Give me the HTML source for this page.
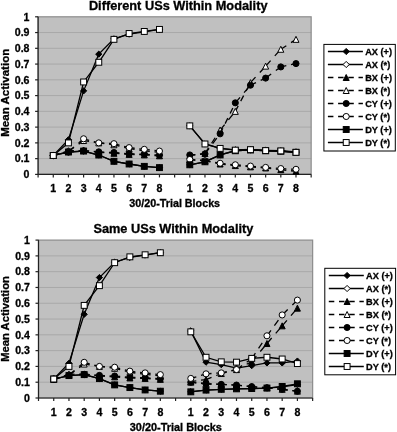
<!DOCTYPE html>
<html><head><meta charset="utf-8"><title>Mean Activation Charts</title>
<style>
html,body{margin:0;padding:0;background:#fff;}
body{width:397px;height:432px;overflow:hidden;}
svg{display:block;}
text{font-family:"Liberation Sans",sans-serif;font-weight:bold;fill:#000;stroke:#000;stroke-width:0.3px;}
.tk{font-size:10.6px;}
.ax{font-size:10.65px;}
.tt{font-size:12.7px;}
.lg{font-size:9.2px;}
.ay{font-size:10.4px;}
</style></head><body>
<svg width="397" height="432" viewBox="0 0 397 432">
<rect width="397" height="432" fill="#fff"/>
<rect x="38.10" y="16.80" width="273.06" height="157.60" fill="#c0c0c0"/>
<line x1="38.10" x2="311.16" y1="158.64" y2="158.64" stroke="#a8a8a8" stroke-width="1"/>
<line x1="38.10" x2="311.16" y1="142.88" y2="142.88" stroke="#a8a8a8" stroke-width="1"/>
<line x1="38.10" x2="311.16" y1="127.12" y2="127.12" stroke="#a8a8a8" stroke-width="1"/>
<line x1="38.10" x2="311.16" y1="111.36" y2="111.36" stroke="#a8a8a8" stroke-width="1"/>
<line x1="38.10" x2="311.16" y1="95.60" y2="95.60" stroke="#a8a8a8" stroke-width="1"/>
<line x1="38.10" x2="311.16" y1="79.84" y2="79.84" stroke="#a8a8a8" stroke-width="1"/>
<line x1="38.10" x2="311.16" y1="64.08" y2="64.08" stroke="#a8a8a8" stroke-width="1"/>
<line x1="38.10" x2="311.16" y1="48.32" y2="48.32" stroke="#a8a8a8" stroke-width="1"/>
<line x1="38.10" x2="311.16" y1="32.56" y2="32.56" stroke="#a8a8a8" stroke-width="1"/>
<rect x="38.10" y="16.80" width="273.06" height="157.60" fill="none" stroke="#8c8c8c" stroke-width="1.2"/>
<line x1="38.10" x2="38.10" y1="16.80" y2="174.40" stroke="#222" stroke-width="1.2"/>
<line x1="38.10" x2="311.16" y1="174.40" y2="174.40" stroke="#222" stroke-width="1.2"/>
<line x1="35.10" x2="38.10" y1="174.40" y2="174.40" stroke="#222" stroke-width="1.2"/>
<text x="29.50" y="178.20" text-anchor="end" class="tk">0</text>
<line x1="35.10" x2="38.10" y1="158.64" y2="158.64" stroke="#222" stroke-width="1.2"/>
<text x="29.50" y="162.44" text-anchor="end" class="tk">0.1</text>
<line x1="35.10" x2="38.10" y1="142.88" y2="142.88" stroke="#222" stroke-width="1.2"/>
<text x="29.50" y="146.68" text-anchor="end" class="tk">0.2</text>
<line x1="35.10" x2="38.10" y1="127.12" y2="127.12" stroke="#222" stroke-width="1.2"/>
<text x="29.50" y="130.92" text-anchor="end" class="tk">0.3</text>
<line x1="35.10" x2="38.10" y1="111.36" y2="111.36" stroke="#222" stroke-width="1.2"/>
<text x="29.50" y="115.16" text-anchor="end" class="tk">0.4</text>
<line x1="35.10" x2="38.10" y1="95.60" y2="95.60" stroke="#222" stroke-width="1.2"/>
<text x="29.50" y="99.40" text-anchor="end" class="tk">0.5</text>
<line x1="35.10" x2="38.10" y1="79.84" y2="79.84" stroke="#222" stroke-width="1.2"/>
<text x="29.50" y="83.64" text-anchor="end" class="tk">0.6</text>
<line x1="35.10" x2="38.10" y1="64.08" y2="64.08" stroke="#222" stroke-width="1.2"/>
<text x="29.50" y="67.88" text-anchor="end" class="tk">0.7</text>
<line x1="35.10" x2="38.10" y1="48.32" y2="48.32" stroke="#222" stroke-width="1.2"/>
<text x="29.50" y="52.12" text-anchor="end" class="tk">0.8</text>
<line x1="35.10" x2="38.10" y1="32.56" y2="32.56" stroke="#222" stroke-width="1.2"/>
<text x="29.50" y="36.36" text-anchor="end" class="tk">0.9</text>
<line x1="35.10" x2="38.10" y1="16.80" y2="16.80" stroke="#222" stroke-width="1.2"/>
<text x="29.50" y="20.60" text-anchor="end" class="tk">1</text>
<line x1="38.10" x2="38.10" y1="174.40" y2="177.40" stroke="#222" stroke-width="1.2"/>
<line x1="53.27" x2="53.27" y1="174.40" y2="177.40" stroke="#222" stroke-width="1.2"/>
<line x1="68.44" x2="68.44" y1="174.40" y2="177.40" stroke="#222" stroke-width="1.2"/>
<line x1="83.61" x2="83.61" y1="174.40" y2="177.40" stroke="#222" stroke-width="1.2"/>
<line x1="98.78" x2="98.78" y1="174.40" y2="177.40" stroke="#222" stroke-width="1.2"/>
<line x1="113.95" x2="113.95" y1="174.40" y2="177.40" stroke="#222" stroke-width="1.2"/>
<line x1="129.12" x2="129.12" y1="174.40" y2="177.40" stroke="#222" stroke-width="1.2"/>
<line x1="144.29" x2="144.29" y1="174.40" y2="177.40" stroke="#222" stroke-width="1.2"/>
<line x1="159.46" x2="159.46" y1="174.40" y2="177.40" stroke="#222" stroke-width="1.2"/>
<line x1="174.63" x2="174.63" y1="174.40" y2="177.40" stroke="#222" stroke-width="1.2"/>
<line x1="189.80" x2="189.80" y1="174.40" y2="177.40" stroke="#222" stroke-width="1.2"/>
<line x1="204.97" x2="204.97" y1="174.40" y2="177.40" stroke="#222" stroke-width="1.2"/>
<line x1="220.14" x2="220.14" y1="174.40" y2="177.40" stroke="#222" stroke-width="1.2"/>
<line x1="235.31" x2="235.31" y1="174.40" y2="177.40" stroke="#222" stroke-width="1.2"/>
<line x1="250.48" x2="250.48" y1="174.40" y2="177.40" stroke="#222" stroke-width="1.2"/>
<line x1="265.65" x2="265.65" y1="174.40" y2="177.40" stroke="#222" stroke-width="1.2"/>
<line x1="280.82" x2="280.82" y1="174.40" y2="177.40" stroke="#222" stroke-width="1.2"/>
<line x1="295.99" x2="295.99" y1="174.40" y2="177.40" stroke="#222" stroke-width="1.2"/>
<line x1="311.16" x2="311.16" y1="174.40" y2="177.40" stroke="#222" stroke-width="1.2"/>
<text x="53.27" y="192.30" text-anchor="middle" class="tk">1</text>
<text x="189.80" y="192.30" text-anchor="middle" class="tk">1</text>
<text x="68.44" y="192.30" text-anchor="middle" class="tk">2</text>
<text x="204.97" y="192.30" text-anchor="middle" class="tk">2</text>
<text x="83.61" y="192.30" text-anchor="middle" class="tk">3</text>
<text x="220.14" y="192.30" text-anchor="middle" class="tk">3</text>
<text x="98.78" y="192.30" text-anchor="middle" class="tk">4</text>
<text x="235.31" y="192.30" text-anchor="middle" class="tk">4</text>
<text x="113.95" y="192.30" text-anchor="middle" class="tk">5</text>
<text x="250.48" y="192.30" text-anchor="middle" class="tk">5</text>
<text x="129.12" y="192.30" text-anchor="middle" class="tk">6</text>
<text x="265.65" y="192.30" text-anchor="middle" class="tk">6</text>
<text x="144.29" y="192.30" text-anchor="middle" class="tk">7</text>
<text x="280.82" y="192.30" text-anchor="middle" class="tk">7</text>
<text x="159.46" y="192.30" text-anchor="middle" class="tk">8</text>
<text x="295.99" y="192.30" text-anchor="middle" class="tk">8</text>
<polyline points="53.27,155.49 68.44,139.73 83.61,90.87 98.78,54.15 113.95,38.86 129.12,34.14 144.29,31.77 159.46,29.41" fill="none" stroke="#000" stroke-width="1.3"/>
<polygon points="53.27,152.39 56.37,155.49 53.27,158.59 50.17,155.49" fill="#000" stroke="#000" stroke-width="1"/>
<polygon points="68.44,136.63 71.54,139.73 68.44,142.83 65.34,139.73" fill="#000" stroke="#000" stroke-width="1"/>
<polygon points="83.61,87.77 86.71,90.87 83.61,93.97 80.51,90.87" fill="#000" stroke="#000" stroke-width="1"/>
<polygon points="98.78,51.05 101.88,54.15 98.78,57.25 95.68,54.15" fill="#000" stroke="#000" stroke-width="1"/>
<polygon points="113.95,35.76 117.05,38.86 113.95,41.96 110.85,38.86" fill="#000" stroke="#000" stroke-width="1"/>
<polygon points="129.12,31.04 132.22,34.14 129.12,37.24 126.02,34.14" fill="#000" stroke="#000" stroke-width="1"/>
<polygon points="144.29,28.67 147.39,31.77 144.29,34.87 141.19,31.77" fill="#000" stroke="#000" stroke-width="1"/>
<polygon points="159.46,26.31 162.56,29.41 159.46,32.51 156.36,29.41" fill="#000" stroke="#000" stroke-width="1"/>
<polyline points="189.80,125.86 204.97,143.98 220.14,148.40 235.31,149.81 250.48,149.50 265.65,150.29 280.82,150.76 295.99,151.86" fill="none" stroke="#000" stroke-width="1.3"/>
<polygon points="189.80,122.76 192.90,125.86 189.80,128.96 186.70,125.86" fill="#000" stroke="#000" stroke-width="1"/>
<polygon points="204.97,140.88 208.07,143.98 204.97,147.08 201.87,143.98" fill="#000" stroke="#000" stroke-width="1"/>
<polygon points="220.14,145.30 223.24,148.40 220.14,151.50 217.04,148.40" fill="#000" stroke="#000" stroke-width="1"/>
<polygon points="235.31,146.71 238.41,149.81 235.31,152.91 232.21,149.81" fill="#000" stroke="#000" stroke-width="1"/>
<polygon points="250.48,146.40 253.58,149.50 250.48,152.60 247.38,149.50" fill="#000" stroke="#000" stroke-width="1"/>
<polygon points="265.65,147.19 268.75,150.29 265.65,153.39 262.55,150.29" fill="#000" stroke="#000" stroke-width="1"/>
<polygon points="280.82,147.66 283.92,150.76 280.82,153.86 277.72,150.76" fill="#000" stroke="#000" stroke-width="1"/>
<polygon points="295.99,148.76 299.09,151.86 295.99,154.96 292.89,151.86" fill="#000" stroke="#000" stroke-width="1"/>
<polyline points="53.27,155.49 68.44,152.02 83.61,151.08 98.78,155.02 113.95,161.32 129.12,164.00 144.29,166.36 159.46,167.62" fill="none" stroke="#000" stroke-width="1.3"/>
<polygon points="53.27,152.39 56.37,155.49 53.27,158.59 50.17,155.49" fill="#fff" stroke="#000" stroke-width="1"/>
<polygon points="68.44,148.92 71.54,152.02 68.44,155.12 65.34,152.02" fill="#fff" stroke="#000" stroke-width="1"/>
<polygon points="83.61,147.98 86.71,151.08 83.61,154.18 80.51,151.08" fill="#fff" stroke="#000" stroke-width="1"/>
<polygon points="98.78,151.92 101.88,155.02 98.78,158.12 95.68,155.02" fill="#fff" stroke="#000" stroke-width="1"/>
<polygon points="113.95,158.22 117.05,161.32 113.95,164.42 110.85,161.32" fill="#fff" stroke="#000" stroke-width="1"/>
<polygon points="129.12,160.90 132.22,164.00 129.12,167.10 126.02,164.00" fill="#fff" stroke="#000" stroke-width="1"/>
<polygon points="144.29,163.26 147.39,166.36 144.29,169.46 141.19,166.36" fill="#fff" stroke="#000" stroke-width="1"/>
<polygon points="159.46,164.52 162.56,167.62 159.46,170.72 156.36,167.62" fill="#fff" stroke="#000" stroke-width="1"/>
<polyline points="189.80,164.79 204.97,161.79 220.14,154.94 235.31,150.76 250.48,149.97 265.65,150.76 280.82,151.23 295.99,152.34" fill="none" stroke="#000" stroke-width="1.3"/>
<polygon points="189.80,161.69 192.90,164.79 189.80,167.89 186.70,164.79" fill="#fff" stroke="#000" stroke-width="1"/>
<polygon points="204.97,158.69 208.07,161.79 204.97,164.89 201.87,161.79" fill="#fff" stroke="#000" stroke-width="1"/>
<polygon points="220.14,151.84 223.24,154.94 220.14,158.04 217.04,154.94" fill="#fff" stroke="#000" stroke-width="1"/>
<polygon points="235.31,147.66 238.41,150.76 235.31,153.86 232.21,150.76" fill="#fff" stroke="#000" stroke-width="1"/>
<polygon points="250.48,146.87 253.58,149.97 250.48,153.07 247.38,149.97" fill="#fff" stroke="#000" stroke-width="1"/>
<polygon points="265.65,147.66 268.75,150.76 265.65,153.86 262.55,150.76" fill="#fff" stroke="#000" stroke-width="1"/>
<polygon points="280.82,148.13 283.92,151.23 280.82,154.33 277.72,151.23" fill="#fff" stroke="#000" stroke-width="1"/>
<polygon points="295.99,149.24 299.09,152.34 295.99,155.44 292.89,152.34" fill="#fff" stroke="#000" stroke-width="1"/>
<line x1="53.27" y1="155.49" x2="68.44" y2="150.76" stroke="#000" stroke-width="1.3" stroke-dasharray="5.76 4.92"/>
<line x1="68.44" y1="150.76" x2="83.61" y2="150.44" stroke="#000" stroke-width="1.3" stroke-dasharray="5.50 4.70"/>
<line x1="83.61" y1="150.44" x2="98.78" y2="152.34" stroke="#000" stroke-width="1.3" stroke-dasharray="5.54 4.74"/>
<line x1="98.78" y1="152.34" x2="113.95" y2="153.28" stroke="#000" stroke-width="1.3" stroke-dasharray="5.51 4.71"/>
<line x1="113.95" y1="153.28" x2="129.12" y2="154.38" stroke="#000" stroke-width="1.3" stroke-dasharray="5.51 4.71"/>
<line x1="129.12" y1="154.38" x2="144.29" y2="154.86" stroke="#000" stroke-width="1.3" stroke-dasharray="5.50 4.70"/>
<line x1="144.29" y1="154.86" x2="159.46" y2="155.80" stroke="#000" stroke-width="1.3" stroke-dasharray="5.51 4.71"/>
<polygon points="53.27,152.49 56.27,158.49 50.27,158.49" fill="#000" stroke="#000" stroke-width="1"/>
<polygon points="68.44,147.76 71.44,153.76 65.44,153.76" fill="#000" stroke="#000" stroke-width="1"/>
<polygon points="83.61,147.44 86.61,153.44 80.61,153.44" fill="#000" stroke="#000" stroke-width="1"/>
<polygon points="98.78,149.34 101.78,155.34 95.78,155.34" fill="#000" stroke="#000" stroke-width="1"/>
<polygon points="113.95,150.28 116.95,156.28 110.95,156.28" fill="#000" stroke="#000" stroke-width="1"/>
<polygon points="129.12,151.38 132.12,157.38 126.12,157.38" fill="#000" stroke="#000" stroke-width="1"/>
<polygon points="144.29,151.86 147.29,157.86 141.29,157.86" fill="#000" stroke="#000" stroke-width="1"/>
<polygon points="159.46,152.80 162.46,158.80 156.46,158.80" fill="#000" stroke="#000" stroke-width="1"/>
<line x1="189.80" y1="159.74" x2="204.97" y2="160.53" stroke="#000" stroke-width="1.3" stroke-dasharray="5.51 4.71"/>
<line x1="204.97" y1="160.53" x2="220.14" y2="164.00" stroke="#000" stroke-width="1.3" stroke-dasharray="5.64 4.82"/>
<line x1="220.14" y1="164.00" x2="235.31" y2="165.57" stroke="#000" stroke-width="1.3" stroke-dasharray="5.53 4.73"/>
<line x1="235.31" y1="165.57" x2="250.48" y2="166.84" stroke="#000" stroke-width="1.3" stroke-dasharray="5.52 4.72"/>
<line x1="250.48" y1="166.84" x2="265.65" y2="167.94" stroke="#000" stroke-width="1.3" stroke-dasharray="5.51 4.71"/>
<line x1="265.65" y1="167.94" x2="280.82" y2="169.67" stroke="#000" stroke-width="1.3" stroke-dasharray="5.54 4.73"/>
<line x1="280.82" y1="169.67" x2="295.99" y2="171.25" stroke="#000" stroke-width="1.3" stroke-dasharray="5.53 4.73"/>
<polygon points="189.80,156.74 192.80,162.74 186.80,162.74" fill="#000" stroke="#000" stroke-width="1"/>
<polygon points="204.97,157.53 207.97,163.53 201.97,163.53" fill="#000" stroke="#000" stroke-width="1"/>
<polygon points="220.14,161.00 223.14,167.00 217.14,167.00" fill="#000" stroke="#000" stroke-width="1"/>
<polygon points="235.31,162.57 238.31,168.57 232.31,168.57" fill="#000" stroke="#000" stroke-width="1"/>
<polygon points="250.48,163.84 253.48,169.84 247.48,169.84" fill="#000" stroke="#000" stroke-width="1"/>
<polygon points="265.65,164.94 268.65,170.94 262.65,170.94" fill="#000" stroke="#000" stroke-width="1"/>
<polygon points="280.82,166.67 283.82,172.67 277.82,172.67" fill="#000" stroke="#000" stroke-width="1"/>
<polygon points="295.99,168.25 298.99,174.25 292.99,174.25" fill="#000" stroke="#000" stroke-width="1"/>
<line x1="53.27" y1="155.49" x2="68.44" y2="151.55" stroke="#000" stroke-width="1.3" stroke-dasharray="5.68 4.86"/>
<line x1="68.44" y1="151.55" x2="83.61" y2="140.52" stroke="#000" stroke-width="1.3" stroke-dasharray="6.80 5.81"/>
<line x1="83.61" y1="140.52" x2="98.78" y2="142.88" stroke="#000" stroke-width="1.3" stroke-dasharray="5.57 4.76"/>
<line x1="98.78" y1="142.88" x2="113.95" y2="144.77" stroke="#000" stroke-width="1.3" stroke-dasharray="5.54 4.74"/>
<line x1="113.95" y1="144.77" x2="129.12" y2="148.71" stroke="#000" stroke-width="1.3" stroke-dasharray="5.68 4.86"/>
<line x1="129.12" y1="148.71" x2="144.29" y2="150.76" stroke="#000" stroke-width="1.3" stroke-dasharray="5.55 4.74"/>
<line x1="144.29" y1="150.76" x2="159.46" y2="152.34" stroke="#000" stroke-width="1.3" stroke-dasharray="5.53 4.73"/>
<polygon points="53.27,152.49 56.27,158.49 50.27,158.49" fill="#fff" stroke="#000" stroke-width="1"/>
<polygon points="68.44,148.55 71.44,154.55 65.44,154.55" fill="#fff" stroke="#000" stroke-width="1"/>
<polygon points="83.61,137.52 86.61,143.52 80.61,143.52" fill="#fff" stroke="#000" stroke-width="1"/>
<polygon points="98.78,139.88 101.78,145.88 95.78,145.88" fill="#fff" stroke="#000" stroke-width="1"/>
<polygon points="113.95,141.77 116.95,147.77 110.95,147.77" fill="#fff" stroke="#000" stroke-width="1"/>
<polygon points="129.12,145.71 132.12,151.71 126.12,151.71" fill="#fff" stroke="#000" stroke-width="1"/>
<polygon points="144.29,147.76 147.29,153.76 141.29,153.76" fill="#fff" stroke="#000" stroke-width="1"/>
<polygon points="159.46,149.34 162.46,155.34 156.46,155.34" fill="#fff" stroke="#000" stroke-width="1"/>
<line x1="189.80" y1="155.49" x2="204.97" y2="153.44" stroke="#000" stroke-width="1.3" stroke-dasharray="5.55 4.74"/>
<line x1="204.97" y1="153.44" x2="220.14" y2="130.04" stroke="#000" stroke-width="1.3" stroke-dasharray="6.55 5.60"/>
<line x1="220.14" y1="130.04" x2="235.31" y2="111.36" stroke="#000" stroke-width="1.3" stroke-dasharray="7.09 6.06"/>
<line x1="235.31" y1="111.36" x2="250.48" y2="82.68" stroke="#000" stroke-width="1.3" stroke-dasharray="6.22 5.32"/>
<line x1="250.48" y1="82.68" x2="265.65" y2="66.13" stroke="#000" stroke-width="1.3" stroke-dasharray="7.46 6.38"/>
<line x1="265.65" y1="66.13" x2="280.82" y2="49.27" stroke="#000" stroke-width="1.3" stroke-dasharray="7.40 6.32"/>
<line x1="280.82" y1="49.27" x2="295.99" y2="39.34" stroke="#000" stroke-width="1.3" stroke-dasharray="6.57 5.62"/>
<polygon points="189.80,152.49 192.80,158.49 186.80,158.49" fill="#fff" stroke="#000" stroke-width="1"/>
<polygon points="204.97,150.44 207.97,156.44 201.97,156.44" fill="#fff" stroke="#000" stroke-width="1"/>
<polygon points="220.14,127.04 223.14,133.04 217.14,133.04" fill="#fff" stroke="#000" stroke-width="1"/>
<polygon points="235.31,108.36 238.31,114.36 232.31,114.36" fill="#fff" stroke="#000" stroke-width="1"/>
<polygon points="250.48,79.68 253.48,85.68 247.48,85.68" fill="#fff" stroke="#000" stroke-width="1"/>
<polygon points="265.65,63.13 268.65,69.13 262.65,69.13" fill="#fff" stroke="#000" stroke-width="1"/>
<polygon points="280.82,46.27 283.82,52.27 277.82,52.27" fill="#fff" stroke="#000" stroke-width="1"/>
<polygon points="295.99,36.34 298.99,42.34 292.99,42.34" fill="#fff" stroke="#000" stroke-width="1"/>
<line x1="53.27" y1="155.49" x2="68.44" y2="152.02" stroke="#000" stroke-width="1.3" stroke-dasharray="5.64 4.82"/>
<line x1="68.44" y1="152.02" x2="83.61" y2="150.76" stroke="#000" stroke-width="1.3" stroke-dasharray="5.52 4.72"/>
<line x1="83.61" y1="150.76" x2="98.78" y2="151.86" stroke="#000" stroke-width="1.3" stroke-dasharray="5.51 4.71"/>
<line x1="98.78" y1="151.86" x2="113.95" y2="152.49" stroke="#000" stroke-width="1.3" stroke-dasharray="5.50 4.70"/>
<line x1="113.95" y1="152.49" x2="129.12" y2="153.75" stroke="#000" stroke-width="1.3" stroke-dasharray="5.52 4.72"/>
<line x1="129.12" y1="153.75" x2="144.29" y2="154.23" stroke="#000" stroke-width="1.3" stroke-dasharray="5.50 4.70"/>
<line x1="144.29" y1="154.23" x2="159.46" y2="155.17" stroke="#000" stroke-width="1.3" stroke-dasharray="5.51 4.71"/>
<circle cx="53.27" cy="155.49" r="3.05" fill="#000" stroke="#000" stroke-width="1"/>
<circle cx="68.44" cy="152.02" r="3.05" fill="#000" stroke="#000" stroke-width="1"/>
<circle cx="83.61" cy="150.76" r="3.05" fill="#000" stroke="#000" stroke-width="1"/>
<circle cx="98.78" cy="151.86" r="3.05" fill="#000" stroke="#000" stroke-width="1"/>
<circle cx="113.95" cy="152.49" r="3.05" fill="#000" stroke="#000" stroke-width="1"/>
<circle cx="129.12" cy="153.75" r="3.05" fill="#000" stroke="#000" stroke-width="1"/>
<circle cx="144.29" cy="154.23" r="3.05" fill="#000" stroke="#000" stroke-width="1"/>
<circle cx="159.46" cy="155.17" r="3.05" fill="#000" stroke="#000" stroke-width="1"/>
<line x1="189.80" y1="154.94" x2="204.97" y2="153.91" stroke="#000" stroke-width="1.3" stroke-dasharray="5.51 4.71"/>
<line x1="204.97" y1="153.91" x2="220.14" y2="133.82" stroke="#000" stroke-width="1.3" stroke-dasharray="6.89 5.89"/>
<line x1="220.14" y1="133.82" x2="235.31" y2="102.85" stroke="#000" stroke-width="1.3" stroke-dasharray="6.12 5.23"/>
<line x1="235.31" y1="102.85" x2="250.48" y2="85.20" stroke="#000" stroke-width="1.3" stroke-dasharray="7.25 6.20"/>
<line x1="250.48" y1="85.20" x2="265.65" y2="78.11" stroke="#000" stroke-width="1.3" stroke-dasharray="6.07 5.19"/>
<line x1="265.65" y1="78.11" x2="280.82" y2="66.92" stroke="#000" stroke-width="1.3" stroke-dasharray="6.83 5.84"/>
<line x1="280.82" y1="66.92" x2="295.99" y2="63.61" stroke="#000" stroke-width="1.3" stroke-dasharray="5.63 4.81"/>
<circle cx="189.80" cy="154.94" r="3.05" fill="#000" stroke="#000" stroke-width="1"/>
<circle cx="204.97" cy="153.91" r="3.05" fill="#000" stroke="#000" stroke-width="1"/>
<circle cx="220.14" cy="133.82" r="3.05" fill="#000" stroke="#000" stroke-width="1"/>
<circle cx="235.31" cy="102.85" r="3.05" fill="#000" stroke="#000" stroke-width="1"/>
<circle cx="250.48" cy="85.20" r="3.05" fill="#000" stroke="#000" stroke-width="1"/>
<circle cx="265.65" cy="78.11" r="3.05" fill="#000" stroke="#000" stroke-width="1"/>
<circle cx="280.82" cy="66.92" r="3.05" fill="#000" stroke="#000" stroke-width="1"/>
<circle cx="295.99" cy="63.61" r="3.05" fill="#000" stroke="#000" stroke-width="1"/>
<line x1="53.27" y1="155.49" x2="68.44" y2="151.55" stroke="#000" stroke-width="1.3" stroke-dasharray="5.68 4.86"/>
<line x1="68.44" y1="151.55" x2="83.61" y2="138.78" stroke="#000" stroke-width="1.3" stroke-dasharray="7.19 6.14"/>
<line x1="83.61" y1="138.78" x2="98.78" y2="142.88" stroke="#000" stroke-width="1.3" stroke-dasharray="5.70 4.87"/>
<line x1="98.78" y1="142.88" x2="113.95" y2="143.67" stroke="#000" stroke-width="1.3" stroke-dasharray="5.51 4.71"/>
<line x1="113.95" y1="143.67" x2="129.12" y2="147.61" stroke="#000" stroke-width="1.3" stroke-dasharray="5.68 4.86"/>
<line x1="129.12" y1="147.61" x2="144.29" y2="149.34" stroke="#000" stroke-width="1.3" stroke-dasharray="5.54 4.73"/>
<line x1="144.29" y1="149.34" x2="159.46" y2="151.08" stroke="#000" stroke-width="1.3" stroke-dasharray="5.54 4.73"/>
<circle cx="53.27" cy="155.49" r="3.05" fill="#fff" stroke="#000" stroke-width="1"/>
<circle cx="68.44" cy="151.55" r="3.05" fill="#fff" stroke="#000" stroke-width="1"/>
<circle cx="83.61" cy="138.78" r="3.05" fill="#fff" stroke="#000" stroke-width="1"/>
<circle cx="98.78" cy="142.88" r="3.05" fill="#fff" stroke="#000" stroke-width="1"/>
<circle cx="113.95" cy="143.67" r="3.05" fill="#fff" stroke="#000" stroke-width="1"/>
<circle cx="129.12" cy="147.61" r="3.05" fill="#fff" stroke="#000" stroke-width="1"/>
<circle cx="144.29" cy="149.34" r="3.05" fill="#fff" stroke="#000" stroke-width="1"/>
<circle cx="159.46" cy="151.08" r="3.05" fill="#fff" stroke="#000" stroke-width="1"/>
<line x1="189.80" y1="159.49" x2="204.97" y2="160.85" stroke="#000" stroke-width="1.3" stroke-dasharray="5.52 4.72"/>
<line x1="204.97" y1="160.85" x2="220.14" y2="163.26" stroke="#000" stroke-width="1.3" stroke-dasharray="5.57 4.76"/>
<line x1="220.14" y1="163.26" x2="235.31" y2="164.79" stroke="#000" stroke-width="1.3" stroke-dasharray="5.53 4.72"/>
<line x1="235.31" y1="164.79" x2="250.48" y2="166.09" stroke="#000" stroke-width="1.3" stroke-dasharray="5.52 4.72"/>
<line x1="250.48" y1="166.09" x2="265.65" y2="167.40" stroke="#000" stroke-width="1.3" stroke-dasharray="5.52 4.72"/>
<line x1="265.65" y1="167.40" x2="280.82" y2="168.57" stroke="#000" stroke-width="1.3" stroke-dasharray="5.52 4.71"/>
<line x1="280.82" y1="168.57" x2="295.99" y2="169.29" stroke="#000" stroke-width="1.3" stroke-dasharray="5.51 4.71"/>
<circle cx="189.80" cy="159.49" r="3.05" fill="#fff" stroke="#000" stroke-width="1"/>
<circle cx="204.97" cy="160.85" r="3.05" fill="#fff" stroke="#000" stroke-width="1"/>
<circle cx="220.14" cy="163.26" r="3.05" fill="#fff" stroke="#000" stroke-width="1"/>
<circle cx="235.31" cy="164.79" r="3.05" fill="#fff" stroke="#000" stroke-width="1"/>
<circle cx="250.48" cy="166.09" r="3.05" fill="#fff" stroke="#000" stroke-width="1"/>
<circle cx="265.65" cy="167.40" r="3.05" fill="#fff" stroke="#000" stroke-width="1"/>
<circle cx="280.82" cy="168.57" r="3.05" fill="#fff" stroke="#000" stroke-width="1"/>
<circle cx="295.99" cy="169.29" r="3.05" fill="#fff" stroke="#000" stroke-width="1"/>
<polyline points="53.27,155.49 68.44,152.02 83.61,151.08 98.78,155.02 113.95,161.32 129.12,164.00 144.29,166.36 159.46,167.62" fill="none" stroke="#000" stroke-width="1.3"/>
<rect x="50.32" y="152.54" width="5.90" height="5.90" fill="#000" stroke="#000" stroke-width="1"/>
<rect x="65.49" y="149.07" width="5.90" height="5.90" fill="#000" stroke="#000" stroke-width="1"/>
<rect x="80.66" y="148.13" width="5.90" height="5.90" fill="#000" stroke="#000" stroke-width="1"/>
<rect x="95.83" y="152.07" width="5.90" height="5.90" fill="#000" stroke="#000" stroke-width="1"/>
<rect x="111.00" y="158.37" width="5.90" height="5.90" fill="#000" stroke="#000" stroke-width="1"/>
<rect x="126.17" y="161.05" width="5.90" height="5.90" fill="#000" stroke="#000" stroke-width="1"/>
<rect x="141.34" y="163.41" width="5.90" height="5.90" fill="#000" stroke="#000" stroke-width="1"/>
<rect x="156.51" y="164.67" width="5.90" height="5.90" fill="#000" stroke="#000" stroke-width="1"/>
<polyline points="189.80,164.79 204.97,161.79 220.14,154.94 235.31,150.76 250.48,149.97 265.65,150.76 280.82,151.23 295.99,152.34" fill="none" stroke="#000" stroke-width="1.3"/>
<rect x="186.85" y="161.84" width="5.90" height="5.90" fill="#000" stroke="#000" stroke-width="1"/>
<rect x="202.02" y="158.84" width="5.90" height="5.90" fill="#000" stroke="#000" stroke-width="1"/>
<rect x="217.19" y="151.99" width="5.90" height="5.90" fill="#000" stroke="#000" stroke-width="1"/>
<rect x="232.36" y="147.81" width="5.90" height="5.90" fill="#000" stroke="#000" stroke-width="1"/>
<rect x="247.53" y="147.02" width="5.90" height="5.90" fill="#000" stroke="#000" stroke-width="1"/>
<rect x="262.70" y="147.81" width="5.90" height="5.90" fill="#000" stroke="#000" stroke-width="1"/>
<rect x="277.87" y="148.28" width="5.90" height="5.90" fill="#000" stroke="#000" stroke-width="1"/>
<rect x="293.04" y="149.39" width="5.90" height="5.90" fill="#000" stroke="#000" stroke-width="1"/>
<polyline points="53.27,155.49 68.44,142.88 83.61,81.97 98.78,62.27 113.95,39.34 129.12,33.51 144.29,31.46 159.46,29.41" fill="none" stroke="#000" stroke-width="1.3"/>
<rect x="50.32" y="152.54" width="5.90" height="5.90" fill="#fff" stroke="#000" stroke-width="1"/>
<rect x="65.49" y="139.93" width="5.90" height="5.90" fill="#fff" stroke="#000" stroke-width="1"/>
<rect x="80.66" y="79.02" width="5.90" height="5.90" fill="#fff" stroke="#000" stroke-width="1"/>
<rect x="95.83" y="59.32" width="5.90" height="5.90" fill="#fff" stroke="#000" stroke-width="1"/>
<rect x="111.00" y="36.39" width="5.90" height="5.90" fill="#fff" stroke="#000" stroke-width="1"/>
<rect x="126.17" y="30.56" width="5.90" height="5.90" fill="#fff" stroke="#000" stroke-width="1"/>
<rect x="141.34" y="28.51" width="5.90" height="5.90" fill="#fff" stroke="#000" stroke-width="1"/>
<rect x="156.51" y="26.46" width="5.90" height="5.90" fill="#fff" stroke="#000" stroke-width="1"/>
<polyline points="189.80,125.86 204.97,143.98 220.14,148.40 235.31,150.13 250.48,149.66 265.65,150.60 280.82,150.92 295.99,152.34" fill="none" stroke="#000" stroke-width="1.3"/>
<rect x="186.85" y="122.91" width="5.90" height="5.90" fill="#fff" stroke="#000" stroke-width="1"/>
<rect x="202.02" y="141.03" width="5.90" height="5.90" fill="#fff" stroke="#000" stroke-width="1"/>
<rect x="217.19" y="145.45" width="5.90" height="5.90" fill="#fff" stroke="#000" stroke-width="1"/>
<rect x="232.36" y="147.18" width="5.90" height="5.90" fill="#fff" stroke="#000" stroke-width="1"/>
<rect x="247.53" y="146.71" width="5.90" height="5.90" fill="#fff" stroke="#000" stroke-width="1"/>
<rect x="262.70" y="147.65" width="5.90" height="5.90" fill="#fff" stroke="#000" stroke-width="1"/>
<rect x="277.87" y="147.97" width="5.90" height="5.90" fill="#fff" stroke="#000" stroke-width="1"/>
<rect x="293.04" y="149.39" width="5.90" height="5.90" fill="#fff" stroke="#000" stroke-width="1"/>
<text x="88.90" y="10.30" class="tt" textLength="178.6" lengthAdjust="spacingAndGlyphs">Different USs Within Modality</text>
<text x="129.30" y="207.00" class="ax" textLength="90.80" lengthAdjust="spacingAndGlyphs">30/20-Trial Blocks</text>
<text transform="translate(9.3,92.75) rotate(-90)" text-anchor="middle" class="ay" textLength="88" lengthAdjust="spacingAndGlyphs">Mean Activation</text>
<rect x="323.90" y="44.40" width="71.40" height="106.60" fill="#fff" stroke="#000" stroke-width="1"/>
<line x1="327.90" x2="362.90" y1="51.50" y2="51.50" stroke="#000" stroke-width="1.3"/>
<polygon points="346.20,48.40 349.30,51.50 346.20,54.60 343.10,51.50" fill="#000" stroke="#000" stroke-width="1"/>
<text x="365.20" y="54.60" class="lg">AX (+)</text>
<line x1="327.90" x2="362.90" y1="64.50" y2="64.50" stroke="#000" stroke-width="1.3"/>
<polygon points="346.20,61.40 349.30,64.50 346.20,67.60 343.10,64.50" fill="#fff" stroke="#000" stroke-width="1"/>
<text x="365.20" y="67.60" class="lg">AX (*)</text>
<line x1="327.90" x2="362.90" y1="77.50" y2="77.50" stroke="#000" stroke-width="1.3" stroke-dasharray="5.5 4.7"/>
<polygon points="346.20,74.50 349.20,80.50 343.20,80.50" fill="#000" stroke="#000" stroke-width="1"/>
<text x="365.20" y="80.60" class="lg">BX (+)</text>
<line x1="327.90" x2="362.90" y1="90.50" y2="90.50" stroke="#000" stroke-width="1.3" stroke-dasharray="5.5 4.7"/>
<polygon points="346.20,87.50 349.20,93.50 343.20,93.50" fill="#fff" stroke="#000" stroke-width="1"/>
<text x="365.20" y="93.60" class="lg">BX (*)</text>
<line x1="327.90" x2="362.90" y1="103.50" y2="103.50" stroke="#000" stroke-width="1.3" stroke-dasharray="5.5 4.7"/>
<circle cx="346.20" cy="103.50" r="3.05" fill="#000" stroke="#000" stroke-width="1"/>
<text x="365.20" y="106.60" class="lg">CY (+)</text>
<line x1="327.90" x2="362.90" y1="116.50" y2="116.50" stroke="#000" stroke-width="1.3" stroke-dasharray="5.5 4.7"/>
<circle cx="346.20" cy="116.50" r="3.05" fill="#fff" stroke="#000" stroke-width="1"/>
<text x="365.20" y="119.60" class="lg">CY (*)</text>
<line x1="327.90" x2="362.90" y1="129.50" y2="129.50" stroke="#000" stroke-width="1.3"/>
<rect x="343.25" y="126.55" width="5.90" height="5.90" fill="#000" stroke="#000" stroke-width="1"/>
<text x="365.20" y="132.60" class="lg">DY (+)</text>
<line x1="327.90" x2="362.90" y1="142.50" y2="142.50" stroke="#000" stroke-width="1.3"/>
<rect x="343.25" y="139.55" width="5.90" height="5.90" fill="#fff" stroke="#000" stroke-width="1"/>
<text x="365.20" y="145.60" class="lg">DY (*)</text>
<rect x="38.50" y="240.10" width="274.14" height="157.90" fill="#c0c0c0"/>
<line x1="38.50" x2="312.64" y1="382.21" y2="382.21" stroke="#a8a8a8" stroke-width="1"/>
<line x1="38.50" x2="312.64" y1="366.42" y2="366.42" stroke="#a8a8a8" stroke-width="1"/>
<line x1="38.50" x2="312.64" y1="350.63" y2="350.63" stroke="#a8a8a8" stroke-width="1"/>
<line x1="38.50" x2="312.64" y1="334.84" y2="334.84" stroke="#a8a8a8" stroke-width="1"/>
<line x1="38.50" x2="312.64" y1="319.05" y2="319.05" stroke="#a8a8a8" stroke-width="1"/>
<line x1="38.50" x2="312.64" y1="303.26" y2="303.26" stroke="#a8a8a8" stroke-width="1"/>
<line x1="38.50" x2="312.64" y1="287.47" y2="287.47" stroke="#a8a8a8" stroke-width="1"/>
<line x1="38.50" x2="312.64" y1="271.68" y2="271.68" stroke="#a8a8a8" stroke-width="1"/>
<line x1="38.50" x2="312.64" y1="255.89" y2="255.89" stroke="#a8a8a8" stroke-width="1"/>
<rect x="38.50" y="240.10" width="274.14" height="157.90" fill="none" stroke="#8c8c8c" stroke-width="1.2"/>
<line x1="38.50" x2="38.50" y1="240.10" y2="398.00" stroke="#222" stroke-width="1.2"/>
<line x1="38.50" x2="312.64" y1="398.00" y2="398.00" stroke="#222" stroke-width="1.2"/>
<line x1="35.50" x2="38.50" y1="398.00" y2="398.00" stroke="#222" stroke-width="1.2"/>
<text x="29.90" y="401.80" text-anchor="end" class="tk">0</text>
<line x1="35.50" x2="38.50" y1="382.21" y2="382.21" stroke="#222" stroke-width="1.2"/>
<text x="29.90" y="386.01" text-anchor="end" class="tk">0.1</text>
<line x1="35.50" x2="38.50" y1="366.42" y2="366.42" stroke="#222" stroke-width="1.2"/>
<text x="29.90" y="370.22" text-anchor="end" class="tk">0.2</text>
<line x1="35.50" x2="38.50" y1="350.63" y2="350.63" stroke="#222" stroke-width="1.2"/>
<text x="29.90" y="354.43" text-anchor="end" class="tk">0.3</text>
<line x1="35.50" x2="38.50" y1="334.84" y2="334.84" stroke="#222" stroke-width="1.2"/>
<text x="29.90" y="338.64" text-anchor="end" class="tk">0.4</text>
<line x1="35.50" x2="38.50" y1="319.05" y2="319.05" stroke="#222" stroke-width="1.2"/>
<text x="29.90" y="322.85" text-anchor="end" class="tk">0.5</text>
<line x1="35.50" x2="38.50" y1="303.26" y2="303.26" stroke="#222" stroke-width="1.2"/>
<text x="29.90" y="307.06" text-anchor="end" class="tk">0.6</text>
<line x1="35.50" x2="38.50" y1="287.47" y2="287.47" stroke="#222" stroke-width="1.2"/>
<text x="29.90" y="291.27" text-anchor="end" class="tk">0.7</text>
<line x1="35.50" x2="38.50" y1="271.68" y2="271.68" stroke="#222" stroke-width="1.2"/>
<text x="29.90" y="275.48" text-anchor="end" class="tk">0.8</text>
<line x1="35.50" x2="38.50" y1="255.89" y2="255.89" stroke="#222" stroke-width="1.2"/>
<text x="29.90" y="259.69" text-anchor="end" class="tk">0.9</text>
<line x1="35.50" x2="38.50" y1="240.10" y2="240.10" stroke="#222" stroke-width="1.2"/>
<text x="29.90" y="243.90" text-anchor="end" class="tk">1</text>
<line x1="38.50" x2="38.50" y1="398.00" y2="401.00" stroke="#222" stroke-width="1.2"/>
<line x1="53.73" x2="53.73" y1="398.00" y2="401.00" stroke="#222" stroke-width="1.2"/>
<line x1="68.96" x2="68.96" y1="398.00" y2="401.00" stroke="#222" stroke-width="1.2"/>
<line x1="84.19" x2="84.19" y1="398.00" y2="401.00" stroke="#222" stroke-width="1.2"/>
<line x1="99.42" x2="99.42" y1="398.00" y2="401.00" stroke="#222" stroke-width="1.2"/>
<line x1="114.65" x2="114.65" y1="398.00" y2="401.00" stroke="#222" stroke-width="1.2"/>
<line x1="129.88" x2="129.88" y1="398.00" y2="401.00" stroke="#222" stroke-width="1.2"/>
<line x1="145.11" x2="145.11" y1="398.00" y2="401.00" stroke="#222" stroke-width="1.2"/>
<line x1="160.34" x2="160.34" y1="398.00" y2="401.00" stroke="#222" stroke-width="1.2"/>
<line x1="175.57" x2="175.57" y1="398.00" y2="401.00" stroke="#222" stroke-width="1.2"/>
<line x1="190.80" x2="190.80" y1="398.00" y2="401.00" stroke="#222" stroke-width="1.2"/>
<line x1="206.03" x2="206.03" y1="398.00" y2="401.00" stroke="#222" stroke-width="1.2"/>
<line x1="221.26" x2="221.26" y1="398.00" y2="401.00" stroke="#222" stroke-width="1.2"/>
<line x1="236.49" x2="236.49" y1="398.00" y2="401.00" stroke="#222" stroke-width="1.2"/>
<line x1="251.72" x2="251.72" y1="398.00" y2="401.00" stroke="#222" stroke-width="1.2"/>
<line x1="266.95" x2="266.95" y1="398.00" y2="401.00" stroke="#222" stroke-width="1.2"/>
<line x1="282.18" x2="282.18" y1="398.00" y2="401.00" stroke="#222" stroke-width="1.2"/>
<line x1="297.41" x2="297.41" y1="398.00" y2="401.00" stroke="#222" stroke-width="1.2"/>
<line x1="312.64" x2="312.64" y1="398.00" y2="401.00" stroke="#222" stroke-width="1.2"/>
<text x="53.73" y="415.90" text-anchor="middle" class="tk">1</text>
<text x="190.80" y="415.90" text-anchor="middle" class="tk">1</text>
<text x="68.96" y="415.90" text-anchor="middle" class="tk">2</text>
<text x="206.03" y="415.90" text-anchor="middle" class="tk">2</text>
<text x="84.19" y="415.90" text-anchor="middle" class="tk">3</text>
<text x="221.26" y="415.90" text-anchor="middle" class="tk">3</text>
<text x="99.42" y="415.90" text-anchor="middle" class="tk">4</text>
<text x="236.49" y="415.90" text-anchor="middle" class="tk">4</text>
<text x="114.65" y="415.90" text-anchor="middle" class="tk">5</text>
<text x="251.72" y="415.90" text-anchor="middle" class="tk">5</text>
<text x="129.88" y="415.90" text-anchor="middle" class="tk">6</text>
<text x="266.95" y="415.90" text-anchor="middle" class="tk">6</text>
<text x="145.11" y="415.90" text-anchor="middle" class="tk">7</text>
<text x="282.18" y="415.90" text-anchor="middle" class="tk">7</text>
<text x="160.34" y="415.90" text-anchor="middle" class="tk">8</text>
<text x="297.41" y="415.90" text-anchor="middle" class="tk">8</text>
<polyline points="53.73,379.05 68.96,363.26 84.19,314.31 99.42,277.52 114.65,262.21 129.88,257.47 145.11,255.10 160.34,252.73" fill="none" stroke="#000" stroke-width="1.3"/>
<polygon points="53.73,375.95 56.83,379.05 53.73,382.15 50.63,379.05" fill="#000" stroke="#000" stroke-width="1"/>
<polygon points="68.96,360.16 72.06,363.26 68.96,366.36 65.86,363.26" fill="#000" stroke="#000" stroke-width="1"/>
<polygon points="84.19,311.21 87.29,314.31 84.19,317.41 81.09,314.31" fill="#000" stroke="#000" stroke-width="1"/>
<polygon points="99.42,274.42 102.52,277.52 99.42,280.62 96.32,277.52" fill="#000" stroke="#000" stroke-width="1"/>
<polygon points="114.65,259.11 117.75,262.21 114.65,265.31 111.55,262.21" fill="#000" stroke="#000" stroke-width="1"/>
<polygon points="129.88,254.37 132.98,257.47 129.88,260.57 126.78,257.47" fill="#000" stroke="#000" stroke-width="1"/>
<polygon points="145.11,252.00 148.21,255.10 145.11,258.20 142.01,255.10" fill="#000" stroke="#000" stroke-width="1"/>
<polygon points="160.34,249.63 163.44,252.73 160.34,255.83 157.24,252.73" fill="#000" stroke="#000" stroke-width="1"/>
<polyline points="190.80,330.89 206.03,362.16 221.26,364.68 236.49,368.16 251.72,365.63 266.95,362.95 282.18,362.95 297.41,361.05" fill="none" stroke="#000" stroke-width="1.3"/>
<polygon points="190.80,327.79 193.90,330.89 190.80,333.99 187.70,330.89" fill="#000" stroke="#000" stroke-width="1"/>
<polygon points="206.03,359.06 209.13,362.16 206.03,365.26 202.93,362.16" fill="#000" stroke="#000" stroke-width="1"/>
<polygon points="221.26,361.58 224.36,364.68 221.26,367.78 218.16,364.68" fill="#000" stroke="#000" stroke-width="1"/>
<polygon points="236.49,365.06 239.59,368.16 236.49,371.26 233.39,368.16" fill="#000" stroke="#000" stroke-width="1"/>
<polygon points="251.72,362.53 254.82,365.63 251.72,368.73 248.62,365.63" fill="#000" stroke="#000" stroke-width="1"/>
<polygon points="266.95,359.85 270.05,362.95 266.95,366.05 263.85,362.95" fill="#000" stroke="#000" stroke-width="1"/>
<polygon points="282.18,359.85 285.28,362.95 282.18,366.05 279.08,362.95" fill="#000" stroke="#000" stroke-width="1"/>
<polygon points="297.41,357.95 300.51,361.05 297.41,364.15 294.31,361.05" fill="#000" stroke="#000" stroke-width="1"/>
<polyline points="53.73,379.05 68.96,375.58 84.19,374.63 99.42,378.58 114.65,384.89 129.88,387.58 145.11,389.95 160.34,391.21" fill="none" stroke="#000" stroke-width="1.3"/>
<polygon points="53.73,375.95 56.83,379.05 53.73,382.15 50.63,379.05" fill="#fff" stroke="#000" stroke-width="1"/>
<polygon points="68.96,372.48 72.06,375.58 68.96,378.68 65.86,375.58" fill="#fff" stroke="#000" stroke-width="1"/>
<polygon points="84.19,371.53 87.29,374.63 84.19,377.73 81.09,374.63" fill="#fff" stroke="#000" stroke-width="1"/>
<polygon points="99.42,375.48 102.52,378.58 99.42,381.68 96.32,378.58" fill="#fff" stroke="#000" stroke-width="1"/>
<polygon points="114.65,381.79 117.75,384.89 114.65,387.99 111.55,384.89" fill="#fff" stroke="#000" stroke-width="1"/>
<polygon points="129.88,384.48 132.98,387.58 129.88,390.68 126.78,387.58" fill="#fff" stroke="#000" stroke-width="1"/>
<polygon points="145.11,386.85 148.21,389.95 145.11,393.05 142.01,389.95" fill="#fff" stroke="#000" stroke-width="1"/>
<polygon points="160.34,388.11 163.44,391.21 160.34,394.31 157.24,391.21" fill="#fff" stroke="#000" stroke-width="1"/>
<polyline points="190.80,391.68 206.03,390.11 221.26,389.32 236.49,388.84 251.72,388.53 266.95,388.05 282.18,386.95 297.41,384.58" fill="none" stroke="#000" stroke-width="1.3"/>
<polygon points="190.80,388.58 193.90,391.68 190.80,394.78 187.70,391.68" fill="#fff" stroke="#000" stroke-width="1"/>
<polygon points="206.03,387.00 209.13,390.11 206.03,393.21 202.93,390.11" fill="#fff" stroke="#000" stroke-width="1"/>
<polygon points="221.26,386.22 224.36,389.32 221.26,392.42 218.16,389.32" fill="#fff" stroke="#000" stroke-width="1"/>
<polygon points="236.49,385.74 239.59,388.84 236.49,391.94 233.39,388.84" fill="#fff" stroke="#000" stroke-width="1"/>
<polygon points="251.72,385.43 254.82,388.53 251.72,391.63 248.62,388.53" fill="#fff" stroke="#000" stroke-width="1"/>
<polygon points="266.95,384.95 270.05,388.05 266.95,391.15 263.85,388.05" fill="#fff" stroke="#000" stroke-width="1"/>
<polygon points="282.18,383.85 285.28,386.95 282.18,390.05 279.08,386.95" fill="#fff" stroke="#000" stroke-width="1"/>
<polygon points="297.41,381.48 300.51,384.58 297.41,387.68 294.31,384.58" fill="#fff" stroke="#000" stroke-width="1"/>
<line x1="53.73" y1="379.05" x2="68.96" y2="374.31" stroke="#000" stroke-width="1.3" stroke-dasharray="5.76 4.92"/>
<line x1="68.96" y1="374.31" x2="84.19" y2="374.00" stroke="#000" stroke-width="1.3" stroke-dasharray="5.50 4.70"/>
<line x1="84.19" y1="374.00" x2="99.42" y2="375.89" stroke="#000" stroke-width="1.3" stroke-dasharray="5.54 4.74"/>
<line x1="99.42" y1="375.89" x2="114.65" y2="376.84" stroke="#000" stroke-width="1.3" stroke-dasharray="5.51 4.71"/>
<line x1="114.65" y1="376.84" x2="129.88" y2="377.95" stroke="#000" stroke-width="1.3" stroke-dasharray="5.51 4.71"/>
<line x1="129.88" y1="377.95" x2="145.11" y2="378.42" stroke="#000" stroke-width="1.3" stroke-dasharray="5.50 4.70"/>
<line x1="145.11" y1="378.42" x2="160.34" y2="379.37" stroke="#000" stroke-width="1.3" stroke-dasharray="5.51 4.71"/>
<polygon points="53.73,376.05 56.73,382.05 50.73,382.05" fill="#000" stroke="#000" stroke-width="1"/>
<polygon points="68.96,371.31 71.96,377.31 65.96,377.31" fill="#000" stroke="#000" stroke-width="1"/>
<polygon points="84.19,371.00 87.19,377.00 81.19,377.00" fill="#000" stroke="#000" stroke-width="1"/>
<polygon points="99.42,372.89 102.42,378.89 96.42,378.89" fill="#000" stroke="#000" stroke-width="1"/>
<polygon points="114.65,373.84 117.65,379.84 111.65,379.84" fill="#000" stroke="#000" stroke-width="1"/>
<polygon points="129.88,374.95 132.88,380.95 126.88,380.95" fill="#000" stroke="#000" stroke-width="1"/>
<polygon points="145.11,375.42 148.11,381.42 142.11,381.42" fill="#000" stroke="#000" stroke-width="1"/>
<polygon points="160.34,376.37 163.34,382.37 157.34,382.37" fill="#000" stroke="#000" stroke-width="1"/>
<line x1="190.80" y1="381.58" x2="206.03" y2="379.53" stroke="#000" stroke-width="1.3" stroke-dasharray="5.55 4.74"/>
<line x1="206.03" y1="379.53" x2="221.26" y2="373.53" stroke="#000" stroke-width="1.3" stroke-dasharray="5.91 5.05"/>
<line x1="221.26" y1="373.53" x2="236.49" y2="369.58" stroke="#000" stroke-width="1.3" stroke-dasharray="5.68 4.86"/>
<line x1="236.49" y1="369.58" x2="251.72" y2="361.68" stroke="#000" stroke-width="1.3" stroke-dasharray="6.20 5.29"/>
<line x1="251.72" y1="361.68" x2="266.95" y2="343.52" stroke="#000" stroke-width="1.3" stroke-dasharray="7.18 6.13"/>
<line x1="266.95" y1="343.52" x2="282.18" y2="325.84" stroke="#000" stroke-width="1.3" stroke-dasharray="7.26 6.20"/>
<line x1="282.18" y1="325.84" x2="297.41" y2="308.15" stroke="#000" stroke-width="1.3" stroke-dasharray="7.26 6.20"/>
<polygon points="190.80,378.58 193.80,384.58 187.80,384.58" fill="#000" stroke="#000" stroke-width="1"/>
<polygon points="206.03,376.53 209.03,382.53 203.03,382.53" fill="#000" stroke="#000" stroke-width="1"/>
<polygon points="221.26,370.53 224.26,376.53 218.26,376.53" fill="#000" stroke="#000" stroke-width="1"/>
<polygon points="236.49,366.58 239.49,372.58 233.49,372.58" fill="#000" stroke="#000" stroke-width="1"/>
<polygon points="251.72,358.68 254.72,364.68 248.72,364.68" fill="#000" stroke="#000" stroke-width="1"/>
<polygon points="266.95,340.52 269.95,346.52 263.95,346.52" fill="#000" stroke="#000" stroke-width="1"/>
<polygon points="282.18,322.84 285.18,328.84 279.18,328.84" fill="#000" stroke="#000" stroke-width="1"/>
<polygon points="297.41,305.15 300.41,311.15 294.41,311.15" fill="#000" stroke="#000" stroke-width="1"/>
<line x1="53.73" y1="379.05" x2="68.96" y2="375.10" stroke="#000" stroke-width="1.3" stroke-dasharray="5.68 4.86"/>
<line x1="68.96" y1="375.10" x2="84.19" y2="364.05" stroke="#000" stroke-width="1.3" stroke-dasharray="6.80 5.81"/>
<line x1="84.19" y1="364.05" x2="99.42" y2="366.42" stroke="#000" stroke-width="1.3" stroke-dasharray="5.57 4.76"/>
<line x1="99.42" y1="366.42" x2="114.65" y2="368.31" stroke="#000" stroke-width="1.3" stroke-dasharray="5.54 4.74"/>
<line x1="114.65" y1="368.31" x2="129.88" y2="372.26" stroke="#000" stroke-width="1.3" stroke-dasharray="5.68 4.86"/>
<line x1="129.88" y1="372.26" x2="145.11" y2="374.31" stroke="#000" stroke-width="1.3" stroke-dasharray="5.55 4.74"/>
<line x1="145.11" y1="374.31" x2="160.34" y2="375.89" stroke="#000" stroke-width="1.3" stroke-dasharray="5.53 4.73"/>
<polygon points="53.73,376.05 56.73,382.05 50.73,382.05" fill="#fff" stroke="#000" stroke-width="1"/>
<polygon points="68.96,372.10 71.96,378.10 65.96,378.10" fill="#fff" stroke="#000" stroke-width="1"/>
<polygon points="84.19,361.05 87.19,367.05 81.19,367.05" fill="#fff" stroke="#000" stroke-width="1"/>
<polygon points="99.42,363.42 102.42,369.42 96.42,369.42" fill="#fff" stroke="#000" stroke-width="1"/>
<polygon points="114.65,365.31 117.65,371.31 111.65,371.31" fill="#fff" stroke="#000" stroke-width="1"/>
<polygon points="129.88,369.26 132.88,375.26 126.88,375.26" fill="#fff" stroke="#000" stroke-width="1"/>
<polygon points="145.11,371.31 148.11,377.31 142.11,377.31" fill="#fff" stroke="#000" stroke-width="1"/>
<polygon points="160.34,372.89 163.34,378.89 157.34,378.89" fill="#fff" stroke="#000" stroke-width="1"/>
<line x1="190.80" y1="382.21" x2="206.03" y2="383.79" stroke="#000" stroke-width="1.3" stroke-dasharray="5.53 4.73"/>
<line x1="206.03" y1="383.79" x2="221.26" y2="384.42" stroke="#000" stroke-width="1.3" stroke-dasharray="5.50 4.70"/>
<line x1="221.26" y1="384.42" x2="236.49" y2="385.05" stroke="#000" stroke-width="1.3" stroke-dasharray="5.50 4.70"/>
<line x1="236.49" y1="385.05" x2="251.72" y2="386.63" stroke="#000" stroke-width="1.3" stroke-dasharray="5.53 4.73"/>
<line x1="251.72" y1="386.63" x2="266.95" y2="387.74" stroke="#000" stroke-width="1.3" stroke-dasharray="5.51 4.71"/>
<line x1="266.95" y1="387.74" x2="282.18" y2="389.32" stroke="#000" stroke-width="1.3" stroke-dasharray="5.53 4.73"/>
<line x1="282.18" y1="389.32" x2="297.41" y2="391.21" stroke="#000" stroke-width="1.3" stroke-dasharray="5.54 4.74"/>
<polygon points="190.80,379.21 193.80,385.21 187.80,385.21" fill="#fff" stroke="#000" stroke-width="1"/>
<polygon points="206.03,380.79 209.03,386.79 203.03,386.79" fill="#fff" stroke="#000" stroke-width="1"/>
<polygon points="221.26,381.42 224.26,387.42 218.26,387.42" fill="#fff" stroke="#000" stroke-width="1"/>
<polygon points="236.49,382.05 239.49,388.05 233.49,388.05" fill="#fff" stroke="#000" stroke-width="1"/>
<polygon points="251.72,383.63 254.72,389.63 248.72,389.63" fill="#fff" stroke="#000" stroke-width="1"/>
<polygon points="266.95,384.74 269.95,390.74 263.95,390.74" fill="#fff" stroke="#000" stroke-width="1"/>
<polygon points="282.18,386.32 285.18,392.32 279.18,392.32" fill="#fff" stroke="#000" stroke-width="1"/>
<polygon points="297.41,388.21 300.41,394.21 294.41,394.21" fill="#fff" stroke="#000" stroke-width="1"/>
<line x1="53.73" y1="379.05" x2="68.96" y2="375.58" stroke="#000" stroke-width="1.3" stroke-dasharray="5.64 4.82"/>
<line x1="68.96" y1="375.58" x2="84.19" y2="374.31" stroke="#000" stroke-width="1.3" stroke-dasharray="5.52 4.72"/>
<line x1="84.19" y1="374.31" x2="99.42" y2="375.42" stroke="#000" stroke-width="1.3" stroke-dasharray="5.51 4.71"/>
<line x1="99.42" y1="375.42" x2="114.65" y2="376.05" stroke="#000" stroke-width="1.3" stroke-dasharray="5.50 4.70"/>
<line x1="114.65" y1="376.05" x2="129.88" y2="377.32" stroke="#000" stroke-width="1.3" stroke-dasharray="5.52 4.72"/>
<line x1="129.88" y1="377.32" x2="145.11" y2="377.79" stroke="#000" stroke-width="1.3" stroke-dasharray="5.50 4.70"/>
<line x1="145.11" y1="377.79" x2="160.34" y2="378.74" stroke="#000" stroke-width="1.3" stroke-dasharray="5.51 4.71"/>
<circle cx="53.73" cy="379.05" r="3.05" fill="#000" stroke="#000" stroke-width="1"/>
<circle cx="68.96" cy="375.58" r="3.05" fill="#000" stroke="#000" stroke-width="1"/>
<circle cx="84.19" cy="374.31" r="3.05" fill="#000" stroke="#000" stroke-width="1"/>
<circle cx="99.42" cy="375.42" r="3.05" fill="#000" stroke="#000" stroke-width="1"/>
<circle cx="114.65" cy="376.05" r="3.05" fill="#000" stroke="#000" stroke-width="1"/>
<circle cx="129.88" cy="377.32" r="3.05" fill="#000" stroke="#000" stroke-width="1"/>
<circle cx="145.11" cy="377.79" r="3.05" fill="#000" stroke="#000" stroke-width="1"/>
<circle cx="160.34" cy="378.74" r="3.05" fill="#000" stroke="#000" stroke-width="1"/>
<line x1="190.80" y1="382.21" x2="206.03" y2="383.79" stroke="#000" stroke-width="1.3" stroke-dasharray="5.53 4.73"/>
<line x1="206.03" y1="383.79" x2="221.26" y2="384.42" stroke="#000" stroke-width="1.3" stroke-dasharray="5.50 4.70"/>
<line x1="221.26" y1="384.42" x2="236.49" y2="385.05" stroke="#000" stroke-width="1.3" stroke-dasharray="5.50 4.70"/>
<line x1="236.49" y1="385.05" x2="251.72" y2="386.63" stroke="#000" stroke-width="1.3" stroke-dasharray="5.53 4.73"/>
<line x1="251.72" y1="386.63" x2="266.95" y2="387.74" stroke="#000" stroke-width="1.3" stroke-dasharray="5.51 4.71"/>
<line x1="266.95" y1="387.74" x2="282.18" y2="389.32" stroke="#000" stroke-width="1.3" stroke-dasharray="5.53 4.73"/>
<line x1="282.18" y1="389.32" x2="297.41" y2="391.21" stroke="#000" stroke-width="1.3" stroke-dasharray="5.54 4.74"/>
<circle cx="190.80" cy="382.21" r="3.05" fill="#000" stroke="#000" stroke-width="1"/>
<circle cx="206.03" cy="383.79" r="3.05" fill="#000" stroke="#000" stroke-width="1"/>
<circle cx="221.26" cy="384.42" r="3.05" fill="#000" stroke="#000" stroke-width="1"/>
<circle cx="236.49" cy="385.05" r="3.05" fill="#000" stroke="#000" stroke-width="1"/>
<circle cx="251.72" cy="386.63" r="3.05" fill="#000" stroke="#000" stroke-width="1"/>
<circle cx="266.95" cy="387.74" r="3.05" fill="#000" stroke="#000" stroke-width="1"/>
<circle cx="282.18" cy="389.32" r="3.05" fill="#000" stroke="#000" stroke-width="1"/>
<circle cx="297.41" cy="391.21" r="3.05" fill="#000" stroke="#000" stroke-width="1"/>
<line x1="53.73" y1="379.05" x2="68.96" y2="375.10" stroke="#000" stroke-width="1.3" stroke-dasharray="5.68 4.86"/>
<line x1="68.96" y1="375.10" x2="84.19" y2="362.31" stroke="#000" stroke-width="1.3" stroke-dasharray="7.18 6.14"/>
<line x1="84.19" y1="362.31" x2="99.42" y2="366.42" stroke="#000" stroke-width="1.3" stroke-dasharray="5.70 4.87"/>
<line x1="99.42" y1="366.42" x2="114.65" y2="367.21" stroke="#000" stroke-width="1.3" stroke-dasharray="5.51 4.71"/>
<line x1="114.65" y1="367.21" x2="129.88" y2="371.16" stroke="#000" stroke-width="1.3" stroke-dasharray="5.68 4.86"/>
<line x1="129.88" y1="371.16" x2="145.11" y2="372.89" stroke="#000" stroke-width="1.3" stroke-dasharray="5.54 4.73"/>
<line x1="145.11" y1="372.89" x2="160.34" y2="374.63" stroke="#000" stroke-width="1.3" stroke-dasharray="5.54 4.73"/>
<circle cx="53.73" cy="379.05" r="3.05" fill="#fff" stroke="#000" stroke-width="1"/>
<circle cx="68.96" cy="375.10" r="3.05" fill="#fff" stroke="#000" stroke-width="1"/>
<circle cx="84.19" cy="362.31" r="3.05" fill="#fff" stroke="#000" stroke-width="1"/>
<circle cx="99.42" cy="366.42" r="3.05" fill="#fff" stroke="#000" stroke-width="1"/>
<circle cx="114.65" cy="367.21" r="3.05" fill="#fff" stroke="#000" stroke-width="1"/>
<circle cx="129.88" cy="371.16" r="3.05" fill="#fff" stroke="#000" stroke-width="1"/>
<circle cx="145.11" cy="372.89" r="3.05" fill="#fff" stroke="#000" stroke-width="1"/>
<circle cx="160.34" cy="374.63" r="3.05" fill="#fff" stroke="#000" stroke-width="1"/>
<line x1="190.80" y1="378.42" x2="206.03" y2="373.84" stroke="#000" stroke-width="1.3" stroke-dasharray="5.74 4.91"/>
<line x1="206.03" y1="373.84" x2="221.26" y2="372.89" stroke="#000" stroke-width="1.3" stroke-dasharray="5.51 4.71"/>
<line x1="221.26" y1="372.89" x2="236.49" y2="369.58" stroke="#000" stroke-width="1.3" stroke-dasharray="5.63 4.81"/>
<line x1="236.49" y1="369.58" x2="251.72" y2="358.52" stroke="#000" stroke-width="1.3" stroke-dasharray="6.80 5.81"/>
<line x1="251.72" y1="358.52" x2="266.95" y2="335.79" stroke="#000" stroke-width="1.3" stroke-dasharray="6.62 5.66"/>
<line x1="266.95" y1="335.79" x2="282.18" y2="314.94" stroke="#000" stroke-width="1.3" stroke-dasharray="6.81 5.82"/>
<line x1="282.18" y1="314.94" x2="297.41" y2="300.10" stroke="#000" stroke-width="1.3" stroke-dasharray="7.68 6.56"/>
<circle cx="190.80" cy="378.42" r="3.05" fill="#fff" stroke="#000" stroke-width="1"/>
<circle cx="206.03" cy="373.84" r="3.05" fill="#fff" stroke="#000" stroke-width="1"/>
<circle cx="221.26" cy="372.89" r="3.05" fill="#fff" stroke="#000" stroke-width="1"/>
<circle cx="236.49" cy="369.58" r="3.05" fill="#fff" stroke="#000" stroke-width="1"/>
<circle cx="251.72" cy="358.52" r="3.05" fill="#fff" stroke="#000" stroke-width="1"/>
<circle cx="266.95" cy="335.79" r="3.05" fill="#fff" stroke="#000" stroke-width="1"/>
<circle cx="282.18" cy="314.94" r="3.05" fill="#fff" stroke="#000" stroke-width="1"/>
<circle cx="297.41" cy="300.10" r="3.05" fill="#fff" stroke="#000" stroke-width="1"/>
<polyline points="53.73,379.05 68.96,375.58 84.19,374.63 99.42,378.58 114.65,384.89 129.88,387.58 145.11,389.95 160.34,391.21" fill="none" stroke="#000" stroke-width="1.3"/>
<rect x="50.78" y="376.10" width="5.90" height="5.90" fill="#000" stroke="#000" stroke-width="1"/>
<rect x="66.01" y="372.63" width="5.90" height="5.90" fill="#000" stroke="#000" stroke-width="1"/>
<rect x="81.24" y="371.68" width="5.90" height="5.90" fill="#000" stroke="#000" stroke-width="1"/>
<rect x="96.47" y="375.63" width="5.90" height="5.90" fill="#000" stroke="#000" stroke-width="1"/>
<rect x="111.70" y="381.94" width="5.90" height="5.90" fill="#000" stroke="#000" stroke-width="1"/>
<rect x="126.93" y="384.63" width="5.90" height="5.90" fill="#000" stroke="#000" stroke-width="1"/>
<rect x="142.16" y="387.00" width="5.90" height="5.90" fill="#000" stroke="#000" stroke-width="1"/>
<rect x="157.39" y="388.26" width="5.90" height="5.90" fill="#000" stroke="#000" stroke-width="1"/>
<polyline points="190.80,391.84 206.03,390.11 221.26,389.32 236.49,388.84 251.72,388.53 266.95,388.05 282.18,386.47 297.41,383.79" fill="none" stroke="#000" stroke-width="1.3"/>
<rect x="187.85" y="388.89" width="5.90" height="5.90" fill="#000" stroke="#000" stroke-width="1"/>
<rect x="203.08" y="387.16" width="5.90" height="5.90" fill="#000" stroke="#000" stroke-width="1"/>
<rect x="218.31" y="386.37" width="5.90" height="5.90" fill="#000" stroke="#000" stroke-width="1"/>
<rect x="233.54" y="385.89" width="5.90" height="5.90" fill="#000" stroke="#000" stroke-width="1"/>
<rect x="248.77" y="385.58" width="5.90" height="5.90" fill="#000" stroke="#000" stroke-width="1"/>
<rect x="264.00" y="385.10" width="5.90" height="5.90" fill="#000" stroke="#000" stroke-width="1"/>
<rect x="279.23" y="383.52" width="5.90" height="5.90" fill="#000" stroke="#000" stroke-width="1"/>
<rect x="294.46" y="380.84" width="5.90" height="5.90" fill="#000" stroke="#000" stroke-width="1"/>
<polyline points="53.73,379.05 68.96,366.42 84.19,305.39 99.42,285.65 114.65,262.68 129.88,256.84 145.11,254.78 160.34,252.73" fill="none" stroke="#000" stroke-width="1.3"/>
<rect x="50.78" y="376.10" width="5.90" height="5.90" fill="#fff" stroke="#000" stroke-width="1"/>
<rect x="66.01" y="363.47" width="5.90" height="5.90" fill="#fff" stroke="#000" stroke-width="1"/>
<rect x="81.24" y="302.44" width="5.90" height="5.90" fill="#fff" stroke="#000" stroke-width="1"/>
<rect x="96.47" y="282.70" width="5.90" height="5.90" fill="#fff" stroke="#000" stroke-width="1"/>
<rect x="111.70" y="259.73" width="5.90" height="5.90" fill="#fff" stroke="#000" stroke-width="1"/>
<rect x="126.93" y="253.89" width="5.90" height="5.90" fill="#fff" stroke="#000" stroke-width="1"/>
<rect x="142.16" y="251.83" width="5.90" height="5.90" fill="#fff" stroke="#000" stroke-width="1"/>
<rect x="157.39" y="249.78" width="5.90" height="5.90" fill="#fff" stroke="#000" stroke-width="1"/>
<polyline points="190.80,331.84 206.03,357.26 221.26,361.84 236.49,362.16 251.72,358.37 266.95,357.26 282.18,359.00 297.41,363.58" fill="none" stroke="#000" stroke-width="1.3"/>
<rect x="187.85" y="328.89" width="5.90" height="5.90" fill="#fff" stroke="#000" stroke-width="1"/>
<rect x="203.08" y="354.31" width="5.90" height="5.90" fill="#fff" stroke="#000" stroke-width="1"/>
<rect x="218.31" y="358.89" width="5.90" height="5.90" fill="#fff" stroke="#000" stroke-width="1"/>
<rect x="233.54" y="359.21" width="5.90" height="5.90" fill="#fff" stroke="#000" stroke-width="1"/>
<rect x="248.77" y="355.42" width="5.90" height="5.90" fill="#fff" stroke="#000" stroke-width="1"/>
<rect x="264.00" y="354.31" width="5.90" height="5.90" fill="#fff" stroke="#000" stroke-width="1"/>
<rect x="279.23" y="356.05" width="5.90" height="5.90" fill="#fff" stroke="#000" stroke-width="1"/>
<rect x="294.46" y="360.63" width="5.90" height="5.90" fill="#fff" stroke="#000" stroke-width="1"/>
<text x="93.40" y="232.70" class="tt" textLength="160.0" lengthAdjust="spacingAndGlyphs">Same USs Within Modality</text>
<text x="129.80" y="430.60" class="ax" textLength="92.10" lengthAdjust="spacingAndGlyphs">30/20-Trial Blocks</text>
<text transform="translate(9.3,318.95) rotate(-90)" text-anchor="middle" class="ay" textLength="85.7" lengthAdjust="spacingAndGlyphs">Mean Activation</text>
<rect x="324.80" y="268.30" width="70.80" height="106.50" fill="#fff" stroke="#000" stroke-width="1"/>
<line x1="328.80" x2="363.80" y1="275.50" y2="275.50" stroke="#000" stroke-width="1.3"/>
<polygon points="347.10,272.40 350.20,275.50 347.10,278.60 344.00,275.50" fill="#000" stroke="#000" stroke-width="1"/>
<text x="366.10" y="278.60" class="lg">AX (+)</text>
<line x1="328.80" x2="363.80" y1="288.50" y2="288.50" stroke="#000" stroke-width="1.3"/>
<polygon points="347.10,285.40 350.20,288.50 347.10,291.60 344.00,288.50" fill="#fff" stroke="#000" stroke-width="1"/>
<text x="366.10" y="291.60" class="lg">AX (*)</text>
<line x1="328.80" x2="363.80" y1="301.50" y2="301.50" stroke="#000" stroke-width="1.3" stroke-dasharray="5.5 4.7"/>
<polygon points="347.10,298.50 350.10,304.50 344.10,304.50" fill="#000" stroke="#000" stroke-width="1"/>
<text x="366.10" y="304.60" class="lg">BX (+)</text>
<line x1="328.80" x2="363.80" y1="314.50" y2="314.50" stroke="#000" stroke-width="1.3" stroke-dasharray="5.5 4.7"/>
<polygon points="347.10,311.50 350.10,317.50 344.10,317.50" fill="#fff" stroke="#000" stroke-width="1"/>
<text x="366.10" y="317.60" class="lg">BX (*)</text>
<line x1="328.80" x2="363.80" y1="327.50" y2="327.50" stroke="#000" stroke-width="1.3" stroke-dasharray="5.5 4.7"/>
<circle cx="347.10" cy="327.50" r="3.05" fill="#000" stroke="#000" stroke-width="1"/>
<text x="366.10" y="330.60" class="lg">CY (+)</text>
<line x1="328.80" x2="363.80" y1="340.50" y2="340.50" stroke="#000" stroke-width="1.3" stroke-dasharray="5.5 4.7"/>
<circle cx="347.10" cy="340.50" r="3.05" fill="#fff" stroke="#000" stroke-width="1"/>
<text x="366.10" y="343.60" class="lg">CY (*)</text>
<line x1="328.80" x2="363.80" y1="353.50" y2="353.50" stroke="#000" stroke-width="1.3"/>
<rect x="344.15" y="350.55" width="5.90" height="5.90" fill="#000" stroke="#000" stroke-width="1"/>
<text x="366.10" y="356.60" class="lg">DY (+)</text>
<line x1="328.80" x2="363.80" y1="366.50" y2="366.50" stroke="#000" stroke-width="1.3"/>
<rect x="344.15" y="363.55" width="5.90" height="5.90" fill="#fff" stroke="#000" stroke-width="1"/>
<text x="366.10" y="369.60" class="lg">DY (*)</text>
</svg>
</body></html>
